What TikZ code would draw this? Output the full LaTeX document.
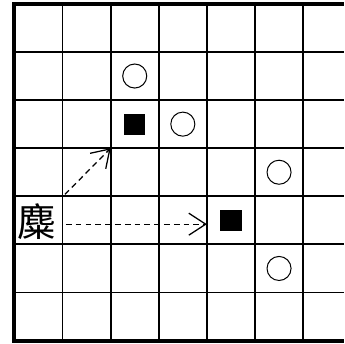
\documentclass[tikz,border=0pt]{standalone}
\usepackage{fontspec}
\newfontfamily\cjk{Noto Sans CJK SC}
\usetikzlibrary{arrows.meta}
\begin{document}
\begin{tikzpicture}[
    stone/.style={draw,circle,line width=0.6pt,minimum size=0.5cm,inner sep=0pt},
    block/.style={fill=black,minimum size=0.44cm,inner sep=0pt},
    move/.style={dash pattern=on 3.4pt off 2.4pt,line width=0.75pt,
      -{Straight Barb[length=10pt,width=13pt,line width=0.75pt]}}]
  \useasboundingbox (-0.3,-0.07) rectangle (6.85,7.08);
  \clip (-0.3,-0.07) rectangle (6.85,7.08);
  \draw[line width=1.1pt] (0,0) grid (7.5,7);
  \draw[line width=2.4pt] (7.5,7) -- (0,7) -- (0,0) -- (7.5,0);
  \node (elk) at (0.47,2.48) {\cjk\fontsize{23}{23}\selectfont 麋};
  \node[block] (b1) at (4.5,2.5) {};
  \node[block] (b2) at (2.5,4.5) {};
  \node[stone] (c1) at (2.5,5.5) {};
  \node[stone] (c2) at (3.5,4.5) {};
  \node[stone] (c3) at (5.5,3.5) {};
  \node[stone] (c4) at (5.5,1.5) {};
  \coordinate (s1) at (1.07,2.42);
  \coordinate (t1) at (4,2.42);
  \coordinate (s2) at (1.05,3.04);
  \coordinate (t2) at (2,4);
  \draw[move] (s1) -- (t1);
  \draw[move] (s2) -- (t2);
\end{tikzpicture}
\end{document}
